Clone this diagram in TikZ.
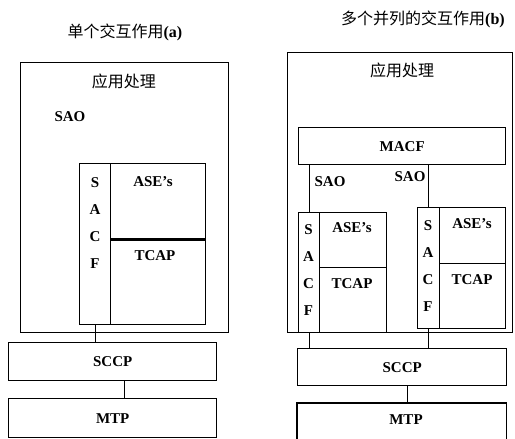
\documentclass[tikz,border=0pt]{standalone}
\usepackage{fontspec}
\setmainfont{Liberation Serif}
\newfontfamily\cjk{Noto Sans CJK SC}
\begin{document}
\begin{tikzpicture}[x=1pt,y=-1pt,
  box/.style={draw,line width=1.4pt,inner sep=0pt,anchor=north west},
  lbl/.style={font=\fontsize{15}{17}\selectfont\bfseries,inner sep=0pt},
  cjkl/.style={font=\fontsize{16}{18}\selectfont\cjk,inner sep=0pt},
  letters/.style={font=\fontsize{15}{27}\selectfont\bfseries,align=center,inner sep=0pt},
  wire/.style={line width=1.4pt}]
\useasboundingbox (0,0) rectangle (515,439);
% ---------- (a) ----------
\node[cjkl] (titleA) at (125,32) {单个交互作用\bfseries\rmfamily(a)};
\node[box,minimum width=208pt,minimum height=270pt] (outerA) at (20,62) {};
\node[cjkl] (apA) at (124,81) {应用处理};
\node[lbl] (saoA) at (70,117) {SAO};
\node[box,minimum width=31pt,minimum height=161pt] (sacfA) at (79,163) {};
\node[box,minimum width=95pt,minimum height=75pt] (aseA) at (110,163) {};
\node[box,minimum width=95pt,minimum height=86pt] (tcapA) at (110,238) {};
\draw[line width=2.2pt] (aseA.south west) -- (aseA.south east);
\node[letters] (sacfAt) at (95,223) {S\\A\\C\\F};
\node[lbl] (aseAt) at (153,182) {ASE's};
\node[lbl] (tcapAt) at (155,256) {TCAP};
\node[box,minimum width=208pt,minimum height=38pt] (sccpA) at (8,342) {};
\node[lbl] at (sccpA.center) {SCCP};
\node[box,minimum width=208pt,minimum height=39pt] (mtpA) at (8,398) {};
\node[lbl] at (mtpA.center) {MTP};
\draw[wire] (sacfA.south) -- (sacfA.south |- sccpA.north);
\coordinate (sA) at ([xshift=12pt]sccpA.south);
\draw[wire] (sA) -- (sA |- mtpA.north);
% ---------- (b) ----------
\node[cjkl] (titleB) at (423,19) {多个并列的交互作用\bfseries\rmfamily(b)};
\node[box,minimum width=225pt,minimum height=280pt] (outerB) at (287,52) {};
\node[cjkl] (apB) at (402,70) {应用处理};
\node[box,minimum width=207pt,minimum height=37pt] (macf) at (298,127) {};
\node[lbl] at (macf.center) {MACF};
\node[box,minimum width=21pt,minimum height=120pt] (sacfB1) at (298,212) {};
\node[box,minimum width=67pt,minimum height=55pt] (aseB1) at (319,212) {};
\node[box,minimum width=67pt,minimum height=65pt] (tcapB1) at (319,267) {};
\node[letters] (sacfB1t) at (308.5,270) {S\\A\\C\\F};
\node[lbl] (aseB1t) at (352,228) {ASE's};
\node[lbl] (tcapB1t) at (352,284) {TCAP};
\node[box,minimum width=22pt,minimum height=121pt] (sacfB2) at (417,207) {};
\node[box,minimum width=66pt,minimum height=56pt] (aseB2) at (439,207) {};
\node[box,minimum width=66pt,minimum height=65pt] (tcapB2) at (439,263) {};
\node[letters] (sacfB2t) at (428,266) {S\\A\\C\\F};
\node[lbl] (aseB2t) at (472,224) {ASE's};
\node[lbl] (tcapB2t) at (472,280) {TCAP};
\node[lbl] (saoB1) at (330,182) {SAO};
\node[lbl] (saoB2) at (410,177) {SAO};
\draw[wire] (sacfB1.north) -- (sacfB1.north |- macf.south);
\draw[wire] (sacfB2.north) -- (sacfB2.north |- macf.south);
\node[box,minimum width=209pt,minimum height=37pt] (sccpB) at (297,348) {};
\node[lbl] at (sccpB.center) {SCCP};
\draw[wire] (sacfB1.south) -- (sacfB1.south |- sccpB.north);
\draw[wire] (sacfB2.south) -- (sacfB2.south |- sccpB.north);
\node[inner sep=0pt,anchor=north west,minimum width=209pt,minimum height=36pt] (mtpB) at (297,403) {};
\draw[line width=1.4pt] (mtpB.south west) -- (mtpB.north west) -- (mtpB.north east) -- (mtpB.south east);
\node[lbl] at (406,420) {MTP};
\coordinate (sB) at ([xshift=5pt]sccpB.south);
\draw[wire] (sB) -- (sB |- mtpB.north);
\end{tikzpicture}
\end{document}
